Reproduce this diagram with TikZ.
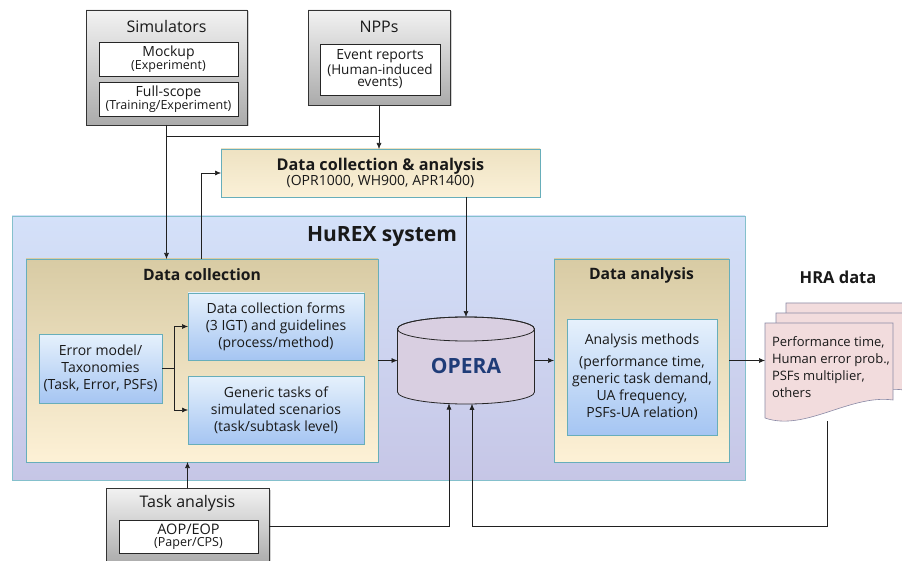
\documentclass[tikz,border=0pt]{standalone}
\usepackage{fontspec}
\setmainfont{Open Sans}
\usetikzlibrary{arrows.meta,shadows}
\definecolor{lineC}{HTML}{202020}
\definecolor{grayTop}{HTML}{F2F2F2}
\definecolor{grayBot}{HTML}{ABABAB}
\definecolor{hxTop}{HTML}{D4E1F9}
\definecolor{hxBot}{HTML}{C6C6E6}
\definecolor{hxBorder}{HTML}{84C0CC}
\definecolor{tanTop}{HTML}{D8CBA4}
\definecolor{tanBot}{HTML}{FDF1D6}
\definecolor{tealB}{HTML}{67AEBA}
\definecolor{blTop}{HTML}{E6F1FC}
\definecolor{blBot}{HTML}{A5C5F2}
\definecolor{dcaTop}{HTML}{EEE2C2}
\definecolor{dcaBot}{HTML}{FBF1D8}
\definecolor{docFill}{HTML}{F2DCDD}
\definecolor{docB}{HTML}{8A8AA6}
\definecolor{opFill}{HTML}{D9CFE1}
\definecolor{opText}{HTML}{1F3C78}
\tikzset{
  x=1pt, y=1pt,
  every node/.style={inner sep=0pt, outer sep=0pt, text=black!90},
  rbox/.style={rectangle, anchor=north west, align=center},
  graybox/.style={rbox, draw=black!80, line width=0.6pt, top color=grayTop, bottom color=grayBot,
     drop shadow={shadow xshift=1.5pt, shadow yshift=-1.5pt, opacity=0.35}},
  whitebox/.style={rbox, draw=black!85, line width=0.7pt, fill=white},
  hubox/.style={rbox, draw=hxBorder, line width=0.9pt, top color=hxTop, bottom color=hxBot},
  tanbox/.style={rbox, draw=tealB, line width=0.8pt, top color=tanTop, bottom color=tanBot,
     drop shadow={shadow xshift=1.2pt, shadow yshift=-1.2pt, opacity=0.3}},
  bluebox/.style={rbox, draw=tealB, line width=0.8pt, top color=blTop, bottom color=blBot,
     drop shadow={shadow xshift=1.2pt, shadow yshift=-1.2pt, opacity=0.3}},
  dcabox/.style={rbox, draw=tealB, line width=0.8pt, top color=dcaTop, bottom color=dcaBot,
     drop shadow={shadow xshift=1.2pt, shadow yshift=-1.2pt, opacity=0.3}},
  body/.style={font=\fontsize{14}{17}\selectfont},
  small/.style={font=\fontsize{13.5}{12.5}\selectfont},
  gtitle/.style={font=\fontsize{16}{18}\selectfont},
  btitle/.style={font=\fontsize{15.7}{18}\selectfont\bfseries},
  conn/.style={draw=lineC, line width=0.6pt},
  arr/.style={conn, -{Latex[length=6pt,width=5pt]}},
}
\begin{document}
\begin{tikzpicture}
\useasboundingbox (0,0) rectangle (902,-561);
\fill[white] (0,0) rectangle (902,-561);

% ---------- top sources ----------
\node[graybox, minimum width=161, minimum height=115] (sim) at (86,-10) {};
\node[gtitle] (simT) at (166.5,-27) {Simulators};
\node[whitebox, minimum width=139, minimum height=34] (mock) at (99,-42)
  {{\fontsize{14}{13}\selectfont Mockup}\\{\fontsize{12.5}{13}\selectfont (Experiment)}};
\node[whitebox, minimum width=139, minimum height=34] (full) at (99,-82)
  {{\fontsize{14}{13}\selectfont Full-scope}\\{\fontsize{12.5}{13}\selectfont (Training/Experiment)}};

\node[graybox, minimum width=142, minimum height=95] (npp) at (308,-10) {};
\node[gtitle] (nppT) at (379,-27) {NPPs};
\node[whitebox, minimum width=120, minimum height=51, small] (ev) at (320,-44)
  {{\fontsize{14}{12.5}\selectfont Event reports}\\(Human-induced\\events)};

\node[dcabox, minimum width=319, minimum height=48] (dca) at (221,-149)
  {{\fontsize{16.2}{19}\selectfont\bfseries Data collection \& analysis}\\{\fontsize{14}{16}\selectfont (OPR1000, WH900, APR1400)}};

% ---------- HuREX system ----------
\node[hubox, minimum width=733, minimum height=264] (hurex) at (12,-216) {};
\node[font=\fontsize{21}{24}\selectfont\bfseries] (hurexT) at (382,-237) {HuREX system};

\node[tanbox, minimum width=352, minimum height=203] (dc) at (26,-259) {};
\node[btitle] (dcT) at (202,-275) {Data collection};
\node[bluebox, minimum width=123, minimum height=69, body] (err) at (39,-334)
  {Error model/\\Taxonomies\\(Task, Error, PSFs)};
\node[bluebox, minimum width=176, minimum height=67, body] (forms) at (188,-293)
  {Data collection forms\\(3 IGT) and guidelines\\(process/method)};
\node[bluebox, minimum width=176, minimum height=68, body] (gen) at (188,-376)
  {Generic tasks of\\simulated scenarios\\(task/subtask level)};

\node[tanbox, minimum width=175, minimum height=203] (da) at (554,-259) {};
\node[btitle] (daT) at (641.5,-275) {Data analysis};
\node[bluebox, minimum width=150, minimum height=116, body] (am) at (567,-319)
  {Analysis methods\\[5pt](performance time,\\generic task demand,\\UA frequency,\\PSFs-UA relation)};

% ---------- OPERA cylinder ----------
\path[fill=opFill, draw=black!85, line width=0.8pt]
  (397.5,-329) -- (397.5,-392)
  arc[start angle=180, end angle=360, x radius=68.5, y radius=12]
  -- (534.5,-329)
  arc[start angle=0, end angle=180, x radius=68.5, y radius=12] -- cycle;
\draw[black!85, line width=0.8pt] (466,-329) ellipse[x radius=68.5, y radius=12];
\node[font=\fontsize{21}{24}\selectfont\bfseries, text=opText] (opera) at (466,-366) {OPERA};
\coordinate (opN) at (466,-317);
\coordinate (opW) at (397.5,-360.5);
\coordinate (opE) at (534.5,-360.5);
\coordinate (opB1) at (449,-403.5);
\coordinate (opB2) at (472,-403.8);

% ---------- HRA data documents ----------
\node[font=\fontsize{16.5}{18}\selectfont\bfseries] (hraT) at (838,-277) {HRA data};
\begin{scope}
\clip (0,0) rectangle (902,-561);
\foreach \dx/\dy in {21/20, 11/10, 0/0}{
  \begin{scope}[shift={(\dx,\dy)}]
  \path[fill=docFill, draw=docB, line width=0.6pt]
    (765,-323) -- (893,-323) -- (893,-400)
    .. controls (850,-394) and (805,-432) .. (765,-418) -- cycle;
  \end{scope}
}
\end{scope}
\node[anchor=north west, align=left, font=\fontsize{13}{17}\selectfont] (hraTxt) at (772,-337)
  {Performance time,\\Human error prob.,\\PSFs multiplier,\\others};
\coordinate (docL) at (765,-360.5);
\coordinate (docBot) at (827,-421);

% ---------- Task analysis ----------
\node[graybox, minimum width=163, minimum height=76] (ta) at (106,-488) {};
\node[gtitle] (taT) at (187.5,-503) {Task analysis};
\node[whitebox, minimum width=139, minimum height=33] (aop) at (119,-520)
  {{\fontsize{14.5}{12}\selectfont AOP/EOP}\\{\fontsize{12.5}{12}\selectfont (Paper/CPS)}};

% ---------- connectors ----------
\coordinate (jA) at (379,-136);
\draw[arr] (sim.south) -- (sim.south |- dc.north);
\draw[conn] (sim.south |- jA) -- (jA);
\draw[arr] (npp.south) -- (npp.south |- dca.north);
\coordinate (kU) at (201,-259);
\draw[arr] (kU) |- (dca.west);
\draw[arr] (dca.south -| opN) -- (opN);
\draw[conn] (err.east) -- ++(12,0) coordinate (br);
\draw[arr] (br) |- (forms.west);
\draw[arr] (br) |- (gen.west);
\draw[arr] (dc.east) -- (opW);
\draw[arr] (opE) -- (opE -| da.west);
\draw[arr] (da.east) -- (docL);
\draw[arr] (docBot) -- ++(0,-105) -| (opB2);
\draw[arr] (ta.north) -- (ta.north |- dc.south);
\draw[arr] (ta.east) -| (opB1);
\end{tikzpicture}
\end{document}
